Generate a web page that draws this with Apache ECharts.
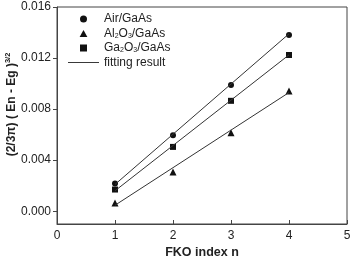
<!DOCTYPE html>
<html>
<head>
<meta charset="utf-8">
<script src="https://cdn.jsdelivr.net/npm/echarts@6/dist/echarts.min.js"></script>
<style>
  html, body { margin: 0; padding: 0; background: #fff; }
  #main { width: 355px; height: 258px; }
</style>
</head>
<body>
<div id="main"></div>
<script>
// FKO index
var fkoIndex = [1, 2, 3, 4];
// measured points
var airGaAs = [0.00217, 0.00596, 0.00988, 0.0138];
var al2o3GaAs = [0.00065, 0.00308, 0.00614, 0.00941];
var ga2o3GaAs = [0.0017, 0.00504, 0.00865, 0.01224];
// fitting lines (end points)
var fitX = [1, 4];
var airFit = [0.0021, 0.0139];
var al2o3Fit = [0.00047, 0.0093];
var ga2o3Fit = [0.0016, 0.01225];
var yTicks = [0, 0.004, 0.008, 0.012, 0.016];

var font = 'Liberation Sans, Arial, sans-serif';
var ink = '#222';

function pairs(xs, ys) {
  return xs.map(function (x, i) { return [x, ys[i]]; });
}

var myChart = echarts.init(document.getElementById('main'));

var option = {
  animation: false,
  grid: {
    left: 57, right: 8, top: 7, bottom: 34,
    outerBoundsMode: 'none',
    show: true, borderColor: '#444', borderWidth: 1
  },
  legend: {
    orient: 'vertical',
    left: 68, top: 13, padding: 0,
    itemWidth: 31, itemHeight: 7, itemGap: 2.5,
    symbolKeepAspect: true,
    textStyle: {
      color: ink, fontFamily: font, fontSize: 12,
      rich: {
        t: { fontFamily: font, fontSize: 12, color: ink, lineHeight: 14 },
        b: { fontFamily: font, fontSize: 7, color: ink, lineHeight: 14, padding: [5, 0, 0, 0] }
      }
    },
    formatter: function (name) {
      if (name === 'Al2O3/GaAs') return '{t|Al}{b|2}{t|O}{b|3}{t|/GaAs}';
      if (name === 'Ga2O3/GaAs') return '{t|Ga}{b|2}{t|O}{b|3}{t|/GaAs}';
      return '{t|' + name + '}';
    },
    data: [
      { name: 'Air/GaAs', icon: 'circle' },
      { name: 'Al2O3/GaAs', icon: 'path://M5,0L10,9L0,9Z' },
      { name: 'Ga2O3/GaAs', icon: 'path://M0,0H10V10H0Z' },
      { name: 'fitting result', icon: 'path://M0,0H32V1H0Z' }
    ]
  },
  xAxis: {
    type: 'value', min: 0, max: 5, interval: 1,
    name: 'FKO index n', nameLocation: 'middle', nameGap: 22, nameMoveOverlap: false,
    nameTextStyle: { fontFamily: font, fontSize: 12.5, fontWeight: 'bold', color: ink },
    axisLine: { onZero: false, lineStyle: { color: '#444' } },
    axisTick: { inside: true, length: 4, lineStyle: { color: '#444' } },
    axisLabel: { fontFamily: font, fontSize: 12, color: ink, margin: 6 },
    splitLine: { show: false }
  },
  yAxis: {
    type: 'value', min: -0.001, max: 0.016,
    name: '{a|(2/3π) ( En - Eg )}{s|3/2}', nameLocation: 'middle', nameGap: 38, nameRotate: 90,
    nameMoveOverlap: false,
    nameTextStyle: {
      padding: [0, 0, 0, 22],
      rich: {
        a: { fontFamily: font, fontSize: 12, fontWeight: 'bold', color: ink },
        s: { fontFamily: font, fontSize: 7.5, fontWeight: 'bold', color: ink, padding: [0, 0, 7, 0] }
      }
    },
    axisLine: { onZero: false, lineStyle: { color: '#444' } },
    axisTick: { length: 4, customValues: yTicks, lineStyle: { color: '#444' } },
    axisLabel: {
      fontFamily: font, fontSize: 12, color: ink, margin: 6,
      customValues: yTicks,
      formatter: function (v) { return v.toFixed(3); }
    },
    splitLine: { show: false }
  },
  series: [
    { name: 'fitting result', type: 'line', data: pairs(fitX, airFit), symbol: 'none',
      lineStyle: { color: '#333', width: 1 }, itemStyle: { color: '#333' } },
    { name: 'fitting result', type: 'line', data: pairs(fitX, al2o3Fit), symbol: 'none',
      lineStyle: { color: '#333', width: 1 }, itemStyle: { color: '#333' } },
    { name: 'fitting result', type: 'line', data: pairs(fitX, ga2o3Fit), symbol: 'none',
      lineStyle: { color: '#333', width: 1 }, itemStyle: { color: '#333' } },
    { name: 'Air/GaAs', type: 'scatter', symbol: 'circle', symbolSize: 6,
      data: pairs(fkoIndex, airGaAs), itemStyle: { color: '#111', opacity: 1 } },
    { name: 'Al2O3/GaAs', type: 'scatter', symbol: 'triangle', symbolSize: 7,
      data: pairs(fkoIndex, al2o3GaAs), itemStyle: { color: '#111', opacity: 1 } },
    { name: 'Ga2O3/GaAs', type: 'scatter', symbol: 'rect', symbolSize: 6,
      data: pairs(fkoIndex, ga2o3GaAs), itemStyle: { color: '#111', opacity: 1 } }
  ]
};

myChart.setOption(option);
</script>
</body>
</html>
